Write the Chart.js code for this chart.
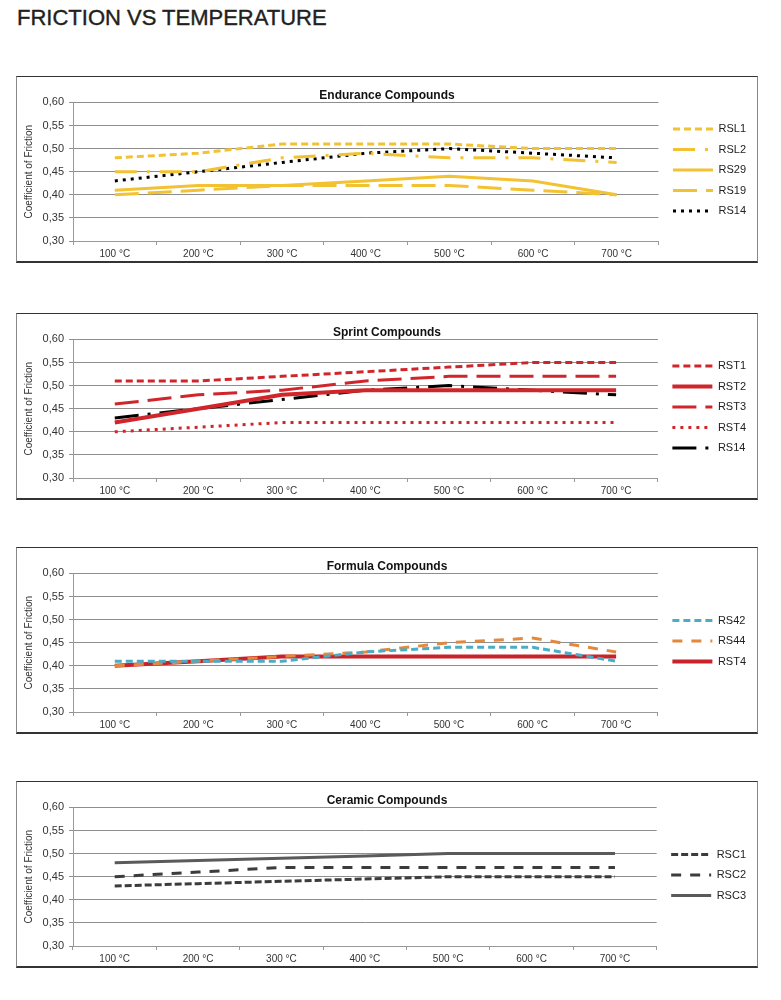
<!DOCTYPE html>
<html>
<head>
<meta charset="utf-8">
<script src="https://cdn.jsdelivr.net/npm/chart.js@4/dist/chart.umd.min.js"></script>
<style>
    body { margin: 0; background: #fff; font-family: "Liberation Sans", Arial, sans-serif; }
    #page { position: relative; width: 781px; height: 1000px; }
    h1 { position: absolute; left: 17px; top: 5px; margin: 0; font-size: 22px; font-weight: normal; color: #231f20; -webkit-text-stroke: 0.4px #231f20; }
    .box { position: absolute; left: 16px; width: 740px; height: 184px; border: 1px solid #888; border-bottom: 2px solid #333; border-top: 1px solid #333; }
    .box canvas { display: block; }
</style>
</head>
<body>
<div id="page">
    <h1>FRICTION VS TEMPERATURE</h1>
    <div class="box" style="top:76px"><canvas id="endurance" width="740" height="184"></canvas></div>
    <div class="box" style="top:313px"><canvas id="sprint" width="740" height="184"></canvas></div>
    <div class="box" style="top:547px"><canvas id="formula" width="740" height="184"></canvas></div>
    <div class="box" style="top:781px"><canvas id="ceramic" width="740" height="184"></canvas></div>
</div>
<script>
// x axis
const temps = ['100 °C', '200 °C', '300 °C', '400 °C', '500 °C', '600 °C', '700 °C'];

// Endurance compounds
const rsl1 = [0.48, 0.49, 0.51, 0.51, 0.51, 0.50, 0.50];
const rsl2 = [0.45, 0.45, 0.48, 0.49, 0.48, 0.48, 0.47];
const rs29 = [0.41, 0.42, 0.42, 0.43, 0.44, 0.43, 0.40];
const rs19 = [0.40, 0.41, 0.42, 0.42, 0.42, 0.41, 0.40];
const rs14_endurance = [0.43, 0.45, 0.47, 0.49, 0.50, 0.49, 0.48];

// Sprint compounds
const rst1 = [0.51, 0.51, 0.52, 0.53, 0.54, 0.55, 0.55];
const rst2 = [0.42, 0.45, 0.48, 0.49, 0.49, 0.49, 0.49];
const rst3 = [0.46, 0.48, 0.49, 0.51, 0.52, 0.52, 0.52];
const rst4 = [0.40, 0.41, 0.42, 0.42, 0.42, 0.42, 0.42];
const rs14_sprint = [0.43, 0.45, 0.47, 0.49, 0.50, 0.49, 0.48];

// Formula compounds
const rs42 = [0.41, 0.41, 0.41, 0.43, 0.44, 0.44, 0.41];
const rs44 = [0.40, 0.41, 0.42, 0.43, 0.45, 0.46, 0.43];
const rst4_formula = [0.40, 0.41, 0.42, 0.42, 0.42, 0.42, 0.42];

// Ceramic compounds
const rsc1 = [0.43, 0.435, 0.44, 0.445, 0.45, 0.45, 0.45];
const rsc2 = [0.45, 0.46, 0.47, 0.47, 0.47, 0.47, 0.47];
const rsc3 = [0.48, 0.485, 0.49, 0.495, 0.50, 0.50, 0.50];

const yTicks = [0.30, 0.35, 0.40, 0.45, 0.50, 0.55, 0.60];

const YELLOW = '#f3c232';
const RED = '#d0262b';
const FONT = '"Liberation Sans", Arial, sans-serif';


function line(label, data, color, dash, width) {
    return {
        label: label,
        data: data,
        borderColor: color,
        backgroundColor: color,
        borderDash: dash,
        borderWidth: width || 3,
        borderCapStyle: 'butt',
        pointRadius: 0,
        tension: 0,
        fill: false
    };
}


/**
 * Legend items with the dataset's own dash pattern
 */
function legendLabels(chart) {
    let items = Chart.defaults.plugins.legend.labels.generateLabels(chart);
    for (let item of items) {
        let ds = chart.data.datasets[item.datasetIndex];
        item.lineDash = ds.borderDash;
        item.lineWidth = ds.borderWidth;
        item.strokeStyle = ds.borderColor;
        item.lineCap = 'butt';
    }
    return items;
}

// a bit more room between plot and legend
const legendShift = {
    id: 'legendShift',
    afterLayout(chart) {
        chart.legend.left += 5;
        chart.legend.right += 5;
    }
};


function makeChart(id, title, datasets) {
    let ctx = document.getElementById(id).getContext('2d');
    return new Chart(ctx, {
        type: 'line',
        data: { labels: temps, datasets: datasets },
        plugins: [legendShift],
        options: {
            responsive: false,
            animation: false,
            events: [],
            layout: { padding: { left: 6, right: 6, top: 0, bottom: -2 } },
            plugins: {
                title: {
                    display: true,
                    text: title,
                    color: '#111',
                    font: { family: FONT, size: 12, weight: 'bold' },
                    padding: { top: 11, bottom: 0 }
                },
                legend: {
                    position: 'right',
                    align: 'center',
                    labels: {
                        usePointStyle: true,
                        pointStyle: 'line',
                        pointStyleWidth: 40,
                        color: '#222',
                        font: { family: FONT, size: 11 },
                        padding: 9.5,
                        generateLabels: legendLabels
                    }
                },
                tooltip: { enabled: false }
            },
            scales: {
                x: {
                    offset: true,
                    grid: { offset: true, drawOnChartArea: false, tickLength: 4, color: '#999' },
                    border: { color: '#999' },
                    ticks: { color: '#333', font: { family: FONT, size: 10 }, padding: 3, maxRotation: 0 }
                },
                y: {
                    min: 0.3,
                    max: 0.6,
                    afterBuildTicks: function (scale) {
                        scale.ticks = yTicks.map(v => ({ value: v }));
                    },
                    afterFit: function (scale) { scale.width = 50; },
                    ticks: {
                        color: '#333',
                        font: { family: FONT, size: 11 },
                        padding: 5,
                        callback: v => v.toFixed(2).replace('.', ',')
                    },
                    grid: { color: '#8e8e8e', tickLength: 4 },
                    border: { color: '#999' },
                    title: {
                        display: true,
                        text: 'Coefficient of Friction',
                        color: '#333',
                        font: { family: FONT, size: 10 },
                        padding: 0
                    }
                }
            }
        }
    });
}


makeChart('endurance', 'Endurance Compounds', [
    line('RSL1', rsl1, YELLOW, [7, 4]),
    line('RSL2', rsl2, YELLOW, [22, 10, 3, 10]),
    line('RS29', rs29, YELLOW, []),
    line('RS19', rs19, YELLOW, [24, 9]),
    line('RS14', rs14_endurance, '#000', [3, 5])
]);

makeChart('sprint', 'Sprint Compounds', [
    line('RST1', rst1, RED, [7, 4]),
    line('RST2', rst2, RED, [], 4),
    line('RST3', rst3, RED, [24, 9]),
    line('RST4', rst4, RED, [3, 5]),
    line('RS14', rs14_sprint, '#000', [24, 9, 3, 9])
]);

makeChart('formula', 'Formula Compounds', [
    line('RS42', rs42, '#4bacc6', [7, 4]),
    line('RS44', rs44, '#e3883c', [10, 9]),
    line('RST4', rst4_formula, '#c8232b', [], 4)
]);

makeChart('ceramic', 'Ceramic Compounds', [
    line('RSC1', rsc1, '#3c3c3c', [7, 3]),
    line('RSC2', rsc2, '#3c3c3c', [10, 9]),
    line('RSC3', rsc3, '#5a5a5a', [])
]);
</script>
</body>
</html>
